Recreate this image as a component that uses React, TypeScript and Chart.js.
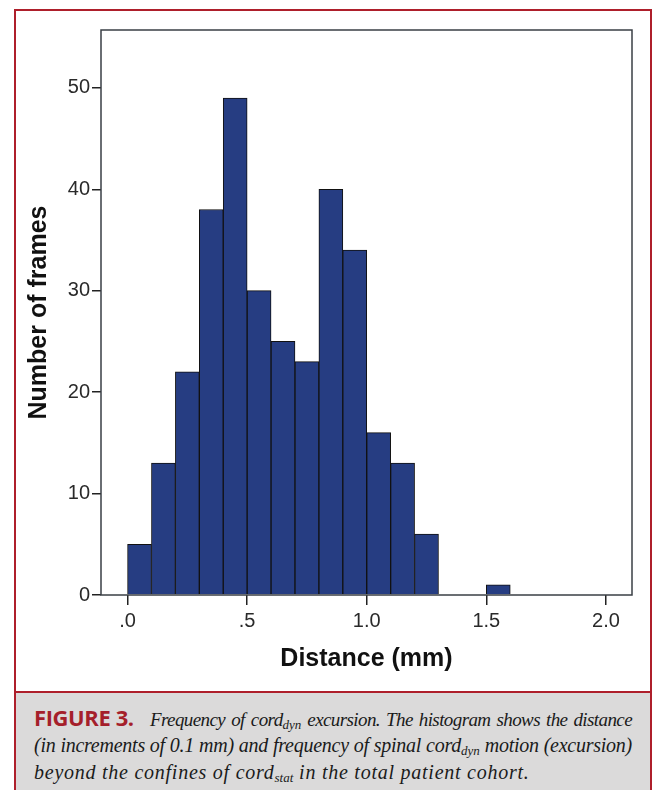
import React, { useEffect, useRef } from "react";
import { Chart, registerables } from "chart.js";

Chart.register(...registerables);

const binStarts = [0.0, 0.1, 0.2, 0.3, 0.4, 0.5, 0.6, 0.7, 0.8, 0.9, 1.0, 1.1, 1.2, 1.3, 1.4, 1.5];
const frameCounts = [5, 13, 22, 38, 49, 30, 25, 23, 40, 34, 16, 13, 6, 0, 0, 1];
const binWidth = 0.1;
const xTickValues = [0, 0.5, 1.0, 1.5, 2.0];
const xTickLabels = [".0", ".5", "1.0", "1.5", "2.0"];
const yTickValues = [0, 10, 20, 30, 40, 50];
const yTickLabels = ["0", "10", "20", "30", "40", "50"];

const framePlugin = {
  id: "frameRect",
  afterDatasetsDraw(chart: any) {
    const { ctx, chartArea } = chart;
    ctx.save();
    ctx.strokeStyle = "#3a3f45";
    ctx.lineWidth = 1.5;
    ctx.strokeRect(chartArea.left, chartArea.top, chartArea.right - chartArea.left, chartArea.bottom - chartArea.top);
    ctx.restore();
  },
};

export default function App() {
  const ref = useRef<HTMLCanvasElement | null>(null);

  useEffect(() => {
    if (!ref.current) return;
    const data = binStarts.map((s, i) => ({ x: s + binWidth / 2, y: frameCounts[i] }));
    const chart = new Chart(ref.current, {
      type: "bar",
      data: {
        datasets: [
          {
            data: data as any,
            backgroundColor: "#263d82",
            borderColor: "#111111",
            borderWidth: 1,
            barPercentage: 1,
            categoryPercentage: 1,
          },
        ],
      },
      options: {
        animation: false,
        responsive: false,
        maintainAspectRatio: false,
        layout: { padding: { top: 30, right: 23, left: 0, bottom: 0 } },
        plugins: { legend: { display: false }, tooltip: { enabled: false } },
        scales: {
          x: {
            type: "linear",
            offset: false,
            min: -0.111,
            max: 2.109,
            afterBuildTicks: (scale: any) => {
              scale.ticks = xTickValues.map((v) => ({ value: v }));
            },
            afterFit: (scale: any) => {
              scale.height = 95;
            },
            grid: {
              display: true,
              offset: false,
              drawOnChartArea: false,
              drawTicks: true,
              tickLength: 10,
              color: "#222222",
              lineWidth: 1.5,
            },
            border: { display: false },
            ticks: {
              padding: 4,
              color: "#2a2a2a",
              font: { family: "'Liberation Sans', Arial, sans-serif", size: 20 },
              callback: (v: any) => {
                const i = xTickValues.findIndex((t) => Math.abs(t - Number(v)) < 1e-6);
                return i >= 0 ? xTickLabels[i] : "";
              },
              maxRotation: 0,
              autoSkip: false,
            },
            title: {
              display: true,
              text: "Distance (mm)",
              color: "#111111",
              font: { family: "'Liberation Sans', Arial, sans-serif", size: 25, weight: "bold", lineHeight: 1 },
              padding: { top: 0, bottom: 18 },
            },
          },
          y: {
            min: 0,
            max: 55.7,
            afterBuildTicks: (scale: any) => {
              scale.ticks = yTickValues.map((v) => ({ value: v }));
            },
            afterFit: (scale: any) => {
              scale.width = 101;
            },
            grid: {
              display: true,
              drawOnChartArea: false,
              drawTicks: true,
              tickLength: 9,
              color: "#222222",
              lineWidth: 1.5,
            },
            border: { display: false },
            ticks: {
              padding: 2,
              color: "#2a2a2a",
              font: { family: "'Liberation Sans', Arial, sans-serif", size: 20 },
              callback: (v: any) => {
                const i = yTickValues.findIndex((t) => Math.abs(t - Number(v)) < 1e-6);
                return i >= 0 ? yTickLabels[i] : "";
              },
              autoSkip: false,
            },
            title: {
              display: true,
              text: "Number of frames",
              color: "#111111",
              font: { family: "'Liberation Sans', Arial, sans-serif", size: 25, weight: "bold", lineHeight: 1 },
              padding: { top: 27, bottom: 0 },
            },
          },
        },
      },
      plugins: [framePlugin],
    });
    return () => chart.destroy();
  }, []);

  const red = "#ae1f2b";
  const serif = "'Liberation Serif', 'Times New Roman', serif";
  const subStyle: React.CSSProperties = { fontSize: 13, verticalAlign: "-3px", lineHeight: 0, letterSpacing: 0 };
  const lineStyle: React.CSSProperties = {
    position: "absolute",
    left: 34,
    width: 598,
    whiteSpace: "nowrap",
    fontFamily: serif,
    fontStyle: "italic",
    fontSize: 20,
    color: "#1a1a1a",
    lineHeight: "24px",
  };
  const justified: React.CSSProperties = { textAlign: "justify", textAlignLast: "justify", whiteSpace: "normal" };

  return (
    <div style={{ position: "absolute", left: 0, top: 0, width: 655, height: 790, background: "#ffffff", overflow: "hidden" }}>
      <div
        style={{
          position: "absolute",
          left: 14,
          top: 9,
          width: 634,
          height: 800,
          borderLeft: `2px solid ${red}`,
          borderRight: `2px solid ${red}`,
          borderTop: `2px solid ${red}`,
        }}
      />
      <div
        style={{
          position: "absolute",
          left: 16,
          top: 691,
          width: 634,
          height: 110,
          background: "#dbdada",
          borderTop: `2px solid ${red}`,
        }}
      />
      <canvas ref={ref} width={655} height={690} style={{ position: "absolute", left: 0, top: 0, width: 655, height: 690 }} />
      <div style={{ ...lineStyle, top: 705, display: "flex", alignItems: "baseline" }}>
        <span
          style={{
            fontFamily: "'Open Sans', sans-serif",
            fontStyle: "normal",
            fontWeight: 700,
            fontSize: 22,
            color: "#a51f2b",
            letterSpacing: "-0.4px",
            width: 116,
            flex: "none",
          }}
        >
          FIGURE 3.
        </span>
        <span style={{ flex: 1, textAlign: "justify", textAlignLast: "justify", whiteSpace: "normal", fontSize: 19, letterSpacing: "-0.6px" }}>
          Frequency of cord<span style={subStyle}>dyn</span> excursion. The histogram shows the distance
        </span>
      </div>
      <div style={{ ...lineStyle, ...justified, top: 733, letterSpacing: "-0.25px" }}>
        (in increments of 0.1 mm) and frequency of spinal cord<span style={subStyle}>dyn</span> motion (excursion)
      </div>
      <div style={{ ...lineStyle, top: 760, letterSpacing: "0.75px" }}>
        beyond the confines of cord<span style={subStyle}>stat</span> in the total patient cohort.
      </div>
    </div>
  );
}
